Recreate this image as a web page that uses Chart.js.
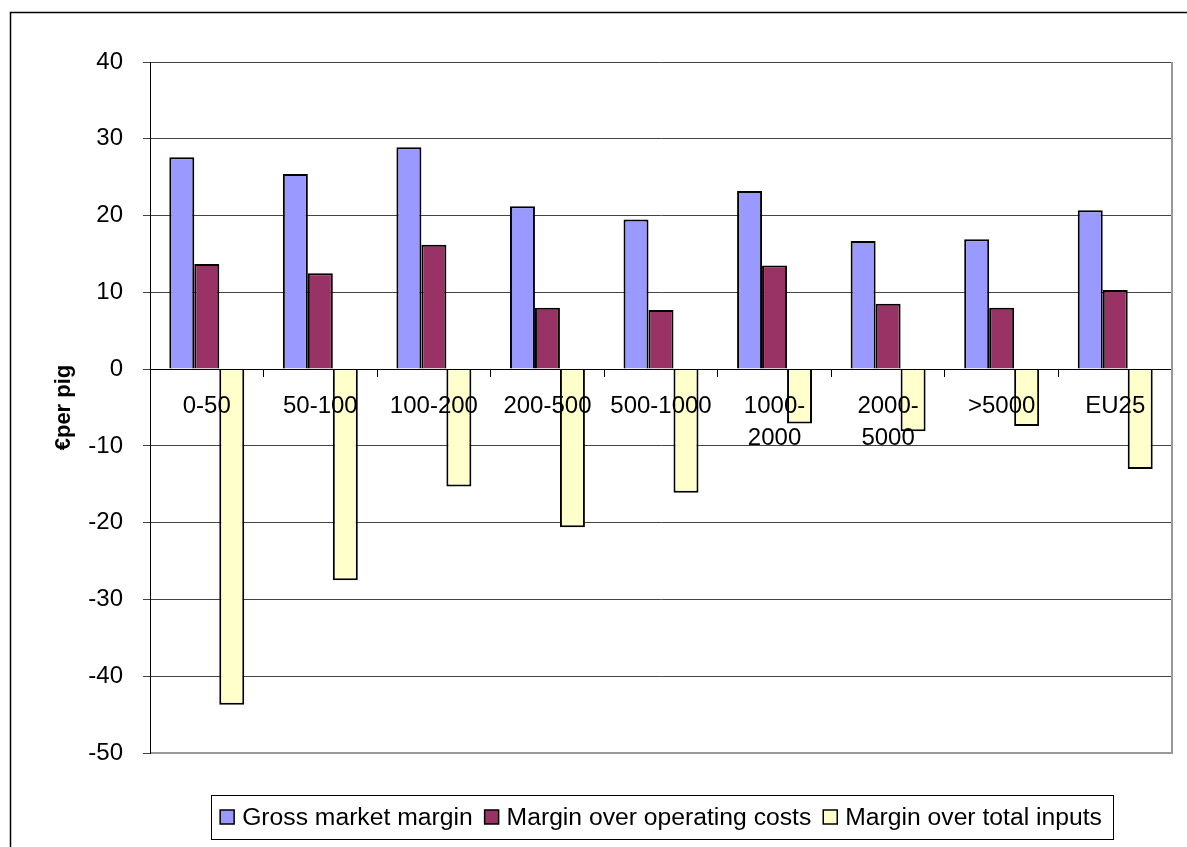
<!DOCTYPE html>
<html>
<head>
<meta charset="utf-8">
<title>Margins per pig by herd size</title>
<script src="https://cdn.jsdelivr.net/npm/chart.js@4.4.1/dist/chart.umd.min.js"></script>
<style>
  html, body { margin: 0; padding: 0; background: #fff; }
  canvas { display: block; }
</style>
</head>
<body>
<canvas id="marginChart" width="1187" height="847"></canvas>
<script>
const FONT = 'Arial, "Liberation Sans", sans-serif';

// herd size classes
const categories = ['0-50', '50-100', '100-200', '200-500', '500-1000',
  ['1000-', '2000'], ['2000-', '5000'], '>5000', 'EU25'];

// € per pig
const grossMargin = [27.6, 25.4, 28.9, 21.2, 19.5, 23.2, 16.7, 16.9, 20.7];
const operatingMargin = [13.7, 12.5, 16.2, 8.0, 7.7, 13.5, 8.5, 8.0, 10.3];
const totalMargin = [-43.7, -27.5, -15.3, -20.6, -16.1, -7.1, -8.1, -7.4, -13.0];

const seriesLabels = ['Gross market margin', 'Margin over operating costs', 'Margin over total inputs'];
const seriesColors = ['#9999FF', '#993366', '#FFFFCC'];

// y axis
const yMin = -50;
const yMax = 40;
const yStep = 10;

// white background + outer frame
const frame = {
  id: 'frame',
  beforeDraw(chart) {
    const { ctx, width, height } = chart;
    ctx.save();
    ctx.fillStyle = '#fff';
    ctx.fillRect(0, 0, width, height);
    ctx.strokeStyle = '#000';
    ctx.lineWidth = 1.5;
    ctx.strokeRect(10.5, 12.5, width + 20, height + 20);
    ctx.restore();
  },
  afterDraw(chart) {
    // grey plot-area border on right and bottom
    const { ctx, chartArea: a } = chart;
    ctx.save();
    ctx.strokeStyle = '#999';
    ctx.lineWidth = 2;
    ctx.beginPath();
    ctx.moveTo(a.right, a.top);
    ctx.lineTo(a.right, a.bottom);
    ctx.lineTo(a.left + 1, a.bottom);
    ctx.stroke();
    ctx.restore();
  }
};

// boxed legend centred under the plot area
const boxedLegend = {
  id: 'boxedLegend',
  afterDraw(chart) {
    const { ctx, chartArea: a, data } = chart;
    ctx.save();
    ctx.font = '24.7px ' + FONT;
    const sw = 14, gap = 8, sep = 12;
    const items = data.datasets.map(ds => ({
      label: ds.label,
      color: ds.backgroundColor,
      w: ctx.measureText(ds.label).width
    }));
    const total = items.reduce((s, it) => s + sw + gap + it.w, 0) + sep * (items.length - 1);
    let x = (a.left + a.right) / 2 - total / 2;
    const cy = 817;

    ctx.strokeStyle = '#000';
    ctx.lineWidth = 1;
    ctx.strokeRect(Math.round(x - 9) + 0.5, 795.5, Math.round(total + 20), 44);

    ctx.textBaseline = 'middle';
    items.forEach(it => {
      ctx.fillStyle = it.color;
      ctx.fillRect(x, cy - sw / 2, sw, sw);
      ctx.lineWidth = 1.5;
      ctx.strokeStyle = '#000';
      ctx.strokeRect(x, cy - sw / 2, sw, sw);
      ctx.fillStyle = '#000';
      ctx.fillText(it.label, x + sw + gap, cy + 1);
      x += sw + gap + it.w + sep;
    });
    ctx.restore();
  }
};

const series = [grossMargin, operatingMargin, totalMargin];

new Chart(document.getElementById('marginChart'), {
  type: 'bar',
  data: {
    labels: categories,
    datasets: series.map((values, i) => ({
      label: seriesLabels[i],
      data: values,
      backgroundColor: seriesColors[i],
      borderColor: '#000',
      borderWidth: 2,
      categoryPercentage: 0.66,
      barPercentage: 1.0
    }))
  },
  options: {
    responsive: false,
    animation: false,
    devicePixelRatio: 1,
    layout: { padding: { left: 10, right: 15, top: 62, bottom: 94 } },
    plugins: {
      legend: { display: false },
      tooltip: { enabled: false }
    },
    scales: {
      x: {
        position: { y: 0 },
        offset: true,
        grid: { offset: true, drawOnChartArea: false, drawTicks: true, tickLength: 7, color: '#000' },
        border: { color: '#000', width: 1, z: 1 },
        ticks: {
          z: 1,
          color: '#000',
          font: { family: FONT, size: 24, lineHeight: 1.33 },
          padding: 14,
          maxRotation: 0,
          autoSkip: false
        },
        afterFit(scale) { scale.height = 0; }
      },
      y: {
        min: yMin,
        max: yMax,
        ticks: {
          stepSize: yStep,
          color: '#000',
          font: { family: FONT, size: 24 },
          padding: 20
        },
        grid: { color: '#444', tickLength: 7 },
        border: { color: '#000', width: 1 },
        title: {
          display: true,
          text: '€per pig',
          color: '#000',
          font: { family: FONT, size: 22, weight: 'bold' },
          padding: { top: 41, bottom: 0 }
        },
        afterFit(scale) { scale.width = 140; }
      }
    }
  },
  plugins: [frame, boxedLegend]
});
</script>
</body>
</html>
